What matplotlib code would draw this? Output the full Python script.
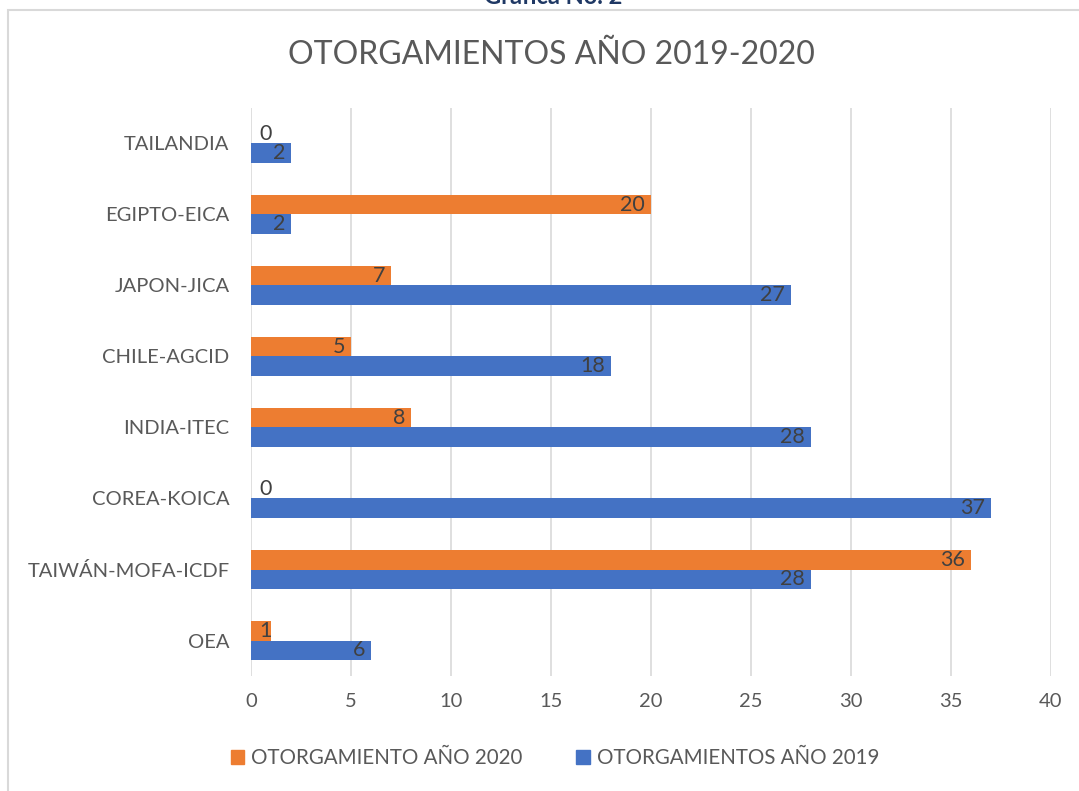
import matplotlib
matplotlib.use("Agg")
import matplotlib.pyplot as plt
from matplotlib.patches import Rectangle, Patch

categories = ["OEA", "TAIWÁN-MOFA-ICDF", "COREA-KOICA", "INDIA-ITEC",
              "CHILE-AGCID", "JAPON-JICA", "EGIPTO-EICA", "TAILANDIA"]
values_2019 = [6, 28, 37, 28, 18, 27, 2, 2]
values_2020 = [1, 36, 0, 8, 5, 7, 20, 0]
xticks = [0, 5, 10, 15, 20, 25, 30, 35, 40]

plt.rcParams['font.family'] = ['Lato', 'DejaVu Sans']

W, H = 1079, 791
fig = plt.figure(figsize=(W / 100, H / 100), dpi=100)

# chart border
fig.patches.append(Rectangle((8 / W, 0 - 0.02), 1.1, (H - 10) / H + 0.02,
                             transform=fig.transFigure, fill=False,
                             edgecolor='#d9d9d9', linewidth=1.5))
fig.text(553 / W, 1.004, "Gráfica No. 2", ha='center', va='center',
         fontsize=17, fontweight='bold', color='#1f3864')

fig.text(551 / W, 1 - 55 / H, "OTORGAMIENTOS AÑO 2019-2020", ha='center', va='center',
         fontsize=23, color='#595959')

ax = fig.add_axes([251 / W, 1 - 676 / H, 800 / W, (676 - 108) / H])

blue = '#4472c4'
orange = '#ed7d31'
h = 0.27
y = list(range(len(categories)))
y_b = [v - h / 2 for v in y]
y_o = [v + h / 2 for v in y]
ax.barh(y_b, values_2019, height=h, color=blue, label="OTORGAMIENTOS AÑO 2019", zorder=3)
ax.barh(y_o, values_2020, height=h, color=orange, label="OTORGAMIENTO AÑO 2020", zorder=3)

def lab(yy, v):
    if v < 2:
        ax.text(0.4, yy, str(v), ha='left', va='center', fontsize=15.5, color='#404040', zorder=4)
    else:
        ax.text(v - 0.3, yy, str(v), ha='right', va='center', fontsize=15.5, color='#404040', zorder=4)

for yy, v in zip(y_b, values_2019):
    lab(yy, v)
for yy, v in zip(y_o, values_2020):
    lab(yy, v)

ax.set_xlim(0, 40)
ax.set_ylim(-0.5, len(categories) - 0.5)
ax.set_xticks(xticks)
ax.set_yticks(y)
ax.set_yticklabels(categories)
ax.tick_params(axis='both', length=0, labelsize=14.5, labelcolor='#595959')
ax.tick_params(axis='x', pad=12)
ax.tick_params(axis='y', pad=15.5)
ax.grid(axis='x', color='#d9d9d9', linewidth=1.2, zorder=0)
for s in ax.spines.values():
    s.set_visible(False)

handles = [Patch(color=orange), Patch(color=blue)]
labels = ["OTORGAMIENTO AÑO 2020", "OTORGAMIENTOS AÑO 2019"]
fig.legend(handles, labels, loc='center', bbox_to_anchor=(555 / W, 1 - 758 / H),
           ncol=2, frameon=False, fontsize=14.8, labelcolor='#595959',
           handlelength=0.65, handleheight=0.65, handletextpad=0.35, columnspacing=2.6)

fig.savefig("out.png", dpi=100)
